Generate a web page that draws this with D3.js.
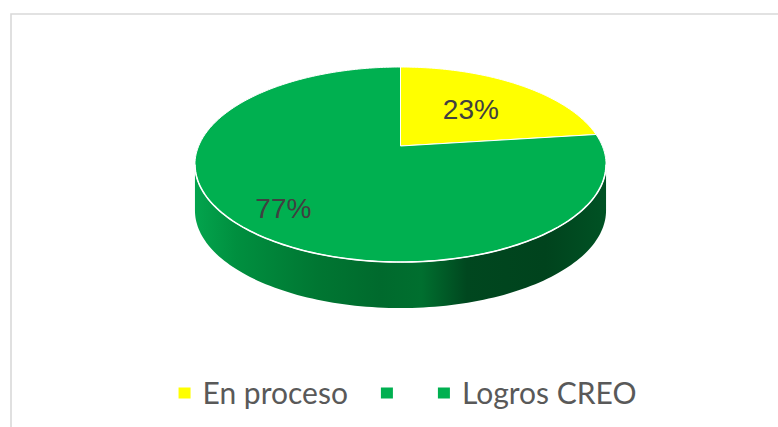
<!DOCTYPE html>
<html>
<head>
<meta charset="utf-8">
<script src="https://cdn.jsdelivr.net/npm/d3@7"></script>
<style>
  body { margin: 0; background: #fff; }
  svg { display: block; }
</style>
</head>
<body>
<div id="container"></div>
<script>
/* DATA */
const categories = ["En proceso", "", "Logros CREO"];
const values = [23, 77, 0];
const colors = ["#ffff00", "#00b050", "#00b050"];
const pctLabels = ["23%", "77%", ""];

/* LAYOUT */
const W = 778, H = 427;
const cx = 400.5, cy = 146;      // projected pie centre
const A = 201.8, B = 94;         // horizontal / vertical radius factors
const k = 0.19;                  // perspective strength
const thick = 46;                // side wall height
const labelR = [0.57, 0.78, 0.6];

const svg = d3.select("#container")
  .append("svg")
    .attr("width", W)
    .attr("height", H);

// chart frame (runs off the right / bottom of the picture)
svg.append("path")
  .attr("d", `M11,${H + 5} L11,14 L${W + 5},14`)
  .attr("fill", "none")
  .attr("stroke", "#d9d9d9")
  .attr("stroke-width", 1.6);

// perspective projection of a point on the pie disc
function proj(theta, r = 1) {
  const u = r * Math.sin(theta), v = r * Math.cos(theta);
  const w = 1 + k * v;
  return [cx + A * u / w, cy - B * v / w];
}

const pie = d3.pie().sort(null).value(d => d)(values);

/* SIDE WALL */
const grad = svg.append("defs").append("linearGradient")
  .attr("id", "side")
  .attr("gradientUnits", "userSpaceOnUse")
  .attr("x1", 195).attr("x2", 607).attr("y1", 0).attr("y2", 0);
[[0.00, "#03a44d"], [0.10, "#008f3f"], [0.30, "#007632"], [0.45, "#006a2d"],
 [0.55, "#006f2f"], [0.66, "#00471f"], [0.85, "#00431d"], [1.00, "#005224"]]
  .forEach(s => grad.append("stop").attr("offset", s[0]).attr("stop-color", s[1]));

const tR = Math.acos(-k), tL = 2 * Math.PI - Math.acos(-k);
const front = d3.range(0, 121).map(i => tR + (tL - tR) * i / 120);
const topEdge = front.map(t => proj(t));
const botEdge = front.map(t => { const p = proj(t); return [p[0], p[1] + thick]; }).reverse();
svg.append("path")
  .attr("d", d3.line()(topEdge.concat(botEdge)) + "Z")
  .attr("fill", "url(#side)");

/* TOP FACE SLICES */
pie.forEach((d, i) => {
  if (d.endAngle - d.startAngle <= 0) return;
  const n = Math.max(2, Math.ceil((d.endAngle - d.startAngle) * 60));
  const pts = [proj(0, 0)].concat(
    d3.range(0, n + 1).map(j => proj(d.startAngle + (d.endAngle - d.startAngle) * j / n)));
  svg.append("path")
    .attr("d", d3.line()(pts) + "Z")
    .attr("fill", colors[i])
    .attr("stroke", "#fff")
    .attr("stroke-width", 1)
    .attr("stroke-linejoin", "round");
});

// white rim along the front edge
svg.append("path")
  .attr("d", d3.line()(topEdge))
  .attr("fill", "none")
  .attr("stroke", "#fff")
  .attr("stroke-width", 1.6);

/* DATA LABELS */
pie.forEach((d, i) => {
  if (!pctLabels[i]) return;
  const mid = (d.startAngle + d.endAngle) / 2;
  const p = proj(mid, labelR[i]);
  svg.append("text")
    .attr("x", p[0]).attr("y", p[1])
    .attr("dy", "0.36em")
    .attr("text-anchor", "middle")
    .style("font-family", "'Liberation Sans', Arial, sans-serif")
    .style("font-size", "28px")
    .attr("fill", "#404040")
    .text(pctLabels[i]);
});

/* LEGEND */
const legend = svg.append("g");
const sq = 12, pad = 12, gap = 33;
let x = 0;
categories.forEach((c, i) => {
  const g = legend.append("g").attr("transform", `translate(${x},0)`);
  g.append("rect")
    .attr("x", 0).attr("y", -6)
    .attr("width", sq).attr("height", sq - 1)
    .attr("fill", colors[i]);
  const t = g.append("text")
    .attr("x", sq + pad).attr("y", 10)
    .style("font-family", "Lato, 'Open Sans', sans-serif")
    .style("font-size", "30px")
    .attr("fill", "#595959")
    .text(c);
  const tw = c ? t.node().getComputedTextLength() : 0;
  x += sq + pad + tw + gap;
});
const legendW = x - gap;
legend.attr("transform", `translate(${407.5 - legendW / 2},393.5)`);
</script>
</body>
</html>
